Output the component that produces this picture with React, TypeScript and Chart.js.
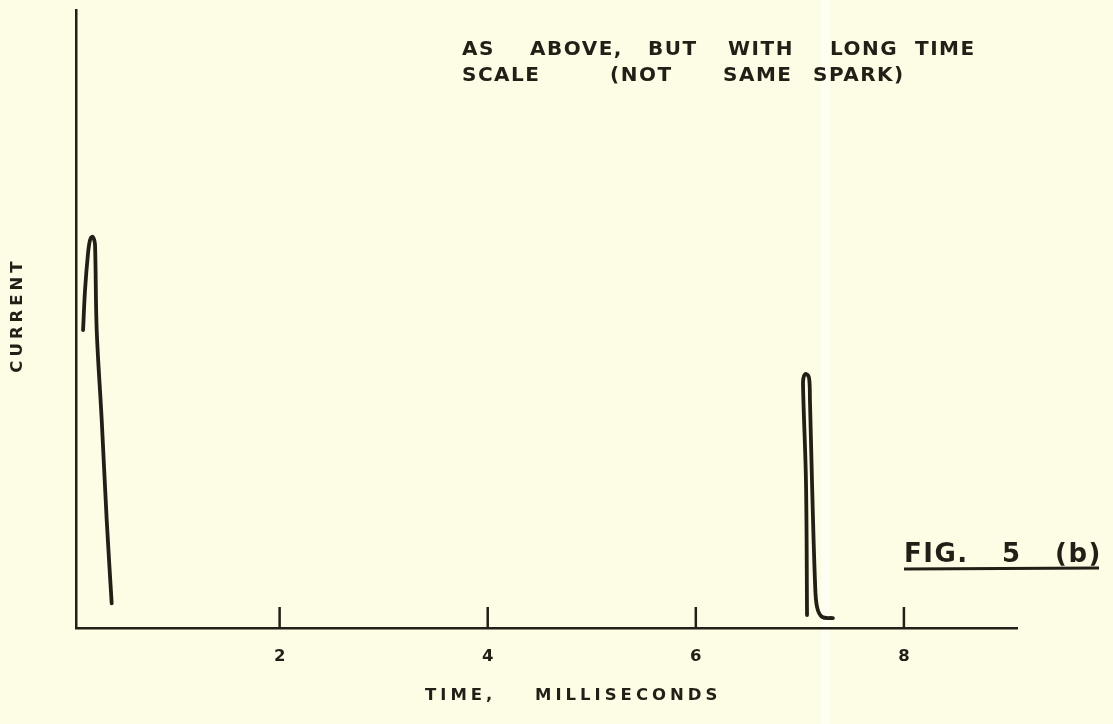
import React, { useEffect, useRef } from "react";
import { Chart, registerables } from "chart.js";

Chart.register(...registerables);

// ---- data ----
const TICK_VALUES = [2, 4, 6, 8];
const PULSE1_T = [0.111, 0.13, 0.159, 0.178, 0.197, 0.214, 0.226, 0.242, 0.29, 0.338, 0.386];
const PULSE1_I = [48.2, 54.7, 60.7, 62.8, 63.3, 63.0, 62.0, 48.2, 33.7, 17.5, 4.0];
const PULSE2_T = [7.069, 7.059, 7.03, 7.04, 7.059, 7.088, 7.097, 7.117, 7.146, 7.165, 7.213, 7.318];
const PULSE2_I = [2.1, 23.5, 39.7, 40.8, 41.1, 40.5, 36.9, 23.5, 7.3, 3.4, 1.8, 1.6];
const NOTE_LINE1 = ["AS", "ABOVE,", "BUT", "WITH", "LONG", "TIME"];
const NOTE_LINE2 = ["SCALE", "(NOT", "SAME", "SPARK)"];
const X_TITLE = ["TIME,", "MILLISECONDS"];
const Y_TITLE = "CURRENT";
const FIG_LABEL = ["FIG.", "5", "(b)"];

const X_MIN = 0.043;
const X_MAX = 9.087;

const INK = "#231e16";
const PAPER = "#fdfde6";
const FONT = "'DejaVu Sans', sans-serif";

function toPoints(t: number[], v: number[]) {
  return t.map((x, i) => ({ x, y: v[i] }));
}

function drawWords(
  ctx: CanvasRenderingContext2D,
  words: string[],
  xs: number[],
  y: number,
  size: number,
  spacing: number
) {
  ctx.save();
  ctx.font = `bold ${size}px ${FONT}`;
  (ctx as any).letterSpacing = `${spacing}px`;
  ctx.fillStyle = INK;
  ctx.textAlign = "left";
  ctx.textBaseline = "alphabetic";
  words.forEach((w, i) => ctx.fillText(w, xs[i], y));
  ctx.restore();
}

const paperPlugin = {
  id: "paper",
  beforeDraw(chart: any) {
    const { ctx, width, height } = chart;
    ctx.save();
    ctx.fillStyle = PAPER;
    ctx.fillRect(0, 0, width, height);
    ctx.fillStyle = "rgba(255,255,255,0.5)";
    ctx.fillRect(821, 0, 9, height);
    ctx.restore();
  },
};

const decorPlugin = {
  id: "decor",
  afterDraw(chart: any) {
    const { ctx, chartArea } = chart;
    const xs = chart.scales.x;
    // inward tick marks
    ctx.save();
    ctx.strokeStyle = INK;
    ctx.lineWidth = 2.5;
    TICK_VALUES.forEach((v) => {
      const px = xs.getPixelForValue(v);
      ctx.beginPath();
      ctx.moveTo(px, chartArea.bottom);
      ctx.lineTo(px, chartArea.bottom - 21);
      ctx.stroke();
    });
    ctx.restore();

    // note at top
    drawWords(ctx, NOTE_LINE1, [462, 530, 648, 728, 830, 915], 55, 20, 1.5);
    drawWords(ctx, NOTE_LINE2, [462, 610, 723, 813], 81, 20, 1.5);

    // axis titles
    drawWords(ctx, X_TITLE, [425, 535], 700, 16.5, 4);
    ctx.save();
    ctx.translate(22, 315);
    ctx.rotate(-Math.PI / 2);
    ctx.font = `bold 16.5px ${FONT}`;
    (ctx as any).letterSpacing = "4px";
    ctx.fillStyle = INK;
    ctx.textAlign = "center";
    ctx.textBaseline = "alphabetic";
    ctx.fillText(Y_TITLE, 0, 0);
    ctx.restore();

    // figure label
    drawWords(ctx, FIG_LABEL, [904, 1002, 1055], 562, 26, 1.5);
    ctx.save();
    ctx.strokeStyle = INK;
    ctx.lineWidth = 3;
    ctx.beginPath();
    ctx.moveTo(904, 569);
    ctx.lineTo(1099, 568);
    ctx.stroke();
    ctx.restore();
  },
};

export default function App() {
  const ref = useRef<HTMLCanvasElement | null>(null);

  useEffect(() => {
    if (!ref.current) return;
    const lineStyle = {
      showLine: true,
      borderColor: INK,
      borderWidth: 3.8,
      pointRadius: 0,
      tension: 0.35,
      borderCapStyle: "round" as const,
      borderJoinStyle: "round" as const,
      fill: false,
    };
    const chart = new Chart(ref.current, {
      type: "scatter",
      data: {
        datasets: [
          { ...lineStyle, label: "Spark 1", data: toPoints(PULSE1_T, PULSE1_I) },
          { ...lineStyle, label: "Spark 2", data: toPoints(PULSE2_T, PULSE2_I) },
        ],
      },
      options: {
        responsive: false,
        animation: false,
        layout: { padding: { top: 10, right: 96, left: 0, bottom: 0 } },
        plugins: { legend: { display: false }, tooltip: { enabled: false } },
        scales: {
          x: {
            type: "linear",
            min: X_MIN,
            max: X_MAX,
            afterBuildTicks: (s: any) => {
              s.ticks = TICK_VALUES.map((v) => ({ value: v }));
            },
            afterFit: (s: any) => {
              s.height = 96;
            },
            ticks: {
              color: INK,
              font: { family: FONT, weight: "bold", size: 16.5 },
              padding: 19,
              maxRotation: 0,
              autoSkip: false,
            },
            grid: { display: true, drawOnChartArea: false, drawTicks: false },
            border: { display: true, color: INK, width: 2.5 },
          },
          y: {
            type: "linear",
            min: 0,
            max: 100,
            afterFit: (s: any) => {
              s.width = 76;
            },
            ticks: { display: false },
            grid: { display: true, drawOnChartArea: false, drawTicks: false },
            border: { display: true, color: INK, width: 2.5 },
          },
        },
      },
      plugins: [paperPlugin, decorPlugin],
    });
    return () => chart.destroy();
  }, []);

  return (
    <canvas
      ref={ref}
      width={1113}
      height={724}
      style={{ position: "fixed", left: 0, top: 0, width: 1113, height: 724 }}
    />
  );
}
